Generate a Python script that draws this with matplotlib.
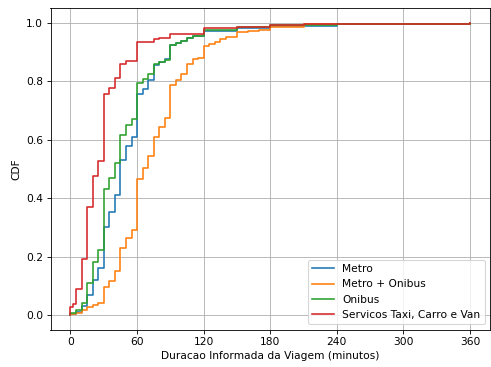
import numpy as np
import matplotlib
matplotlib.use("Agg")
import matplotlib.pyplot as plt

# Reported trip durations (minutes) and cumulative share of trips per transport mode
metro_min = [0, 5, 10, 15, 20, 25, 30, 35, 40, 45, 50, 55, 60, 65, 70, 75, 80, 85,
             90, 95, 100, 105, 110, 115, 120, 150, 180, 240, 360]
metro_cdf = [0.005, 0.011, 0.031, 0.068, 0.120, 0.160, 0.302, 0.352, 0.411, 0.530,
             0.580, 0.610, 0.757, 0.774, 0.805, 0.856, 0.867, 0.876, 0.925, 0.933,
             0.940, 0.948, 0.954, 0.957, 0.973, 0.984, 0.991, 0.996, 1.000]

metro_onibus_min = [0, 5, 10, 15, 20, 25, 30, 35, 40, 45, 50, 55, 60, 65, 70, 75, 80,
                    85, 90, 95, 100, 105, 110, 115, 120, 125, 130, 135, 140, 150, 160,
                    170, 180, 210, 360]
metro_onibus_cdf = [0.003, 0.008, 0.017, 0.028, 0.034, 0.042, 0.095, 0.117, 0.152,
                    0.229, 0.264, 0.291, 0.466, 0.502, 0.544, 0.611, 0.645, 0.675,
                    0.787, 0.806, 0.826, 0.858, 0.875, 0.879, 0.921, 0.929, 0.935,
                    0.945, 0.951, 0.968, 0.972, 0.976, 0.987, 0.995, 1.000]

onibus_min = [0, 5, 10, 15, 20, 25, 30, 35, 40, 45, 50, 55, 60, 65, 70, 75, 80, 85,
              90, 95, 100, 105, 110, 115, 120, 150, 180, 240, 360]
onibus_cdf = [0.006, 0.017, 0.042, 0.108, 0.183, 0.222, 0.430, 0.470, 0.521, 0.617,
              0.650, 0.671, 0.795, 0.807, 0.824, 0.858, 0.867, 0.874, 0.926, 0.933,
              0.940, 0.950, 0.955, 0.956, 0.975, 0.985, 0.992, 0.996, 1.000]

taxi_min = [0, 2, 5, 10, 15, 20, 25, 30, 35, 40, 45, 50, 60, 75, 80, 90, 120, 150,
            180, 210, 360]
taxi_cdf = [0.029, 0.036, 0.088, 0.192, 0.371, 0.476, 0.527, 0.758, 0.779, 0.813,
            0.861, 0.869, 0.934, 0.945, 0.950, 0.962, 0.982, 0.987, 0.992, 0.996,
            1.000]

labels = ["Metro", "Metro + Onibus", "Onibus", "Servicos Taxi, Carro e Van"]
x_ticks = [0, 60, 120, 180, 240, 300, 360]

series = [(metro_min, metro_cdf), (metro_onibus_min, metro_onibus_cdf),
          (onibus_min, onibus_cdf), (taxi_min, taxi_cdf)]

dpi = 76.7
fig = plt.figure(figsize=(491 / dpi, 367 / dpi), dpi=dpi)
ax = fig.add_axes([50.5 / 491, 1 - 329.6 / 367, (490 - 50.5) / 491, (329.6 - 8.4) / 367])

for (xs, ys), lab in zip(series, labels):
    xs = np.r_[xs[0], xs]
    ys = np.r_[0.0, ys]
    ax.step(xs, ys, where="post", label=lab, linewidth=1.5)

ax.set_xticks(x_ticks)
ax.grid(True)
ax.set_xlabel("Duracao Informada da Viagem (minutos)")
ax.set_ylabel("CDF")
ax.legend(loc="lower right")

fig.savefig("out.png", dpi=dpi)
